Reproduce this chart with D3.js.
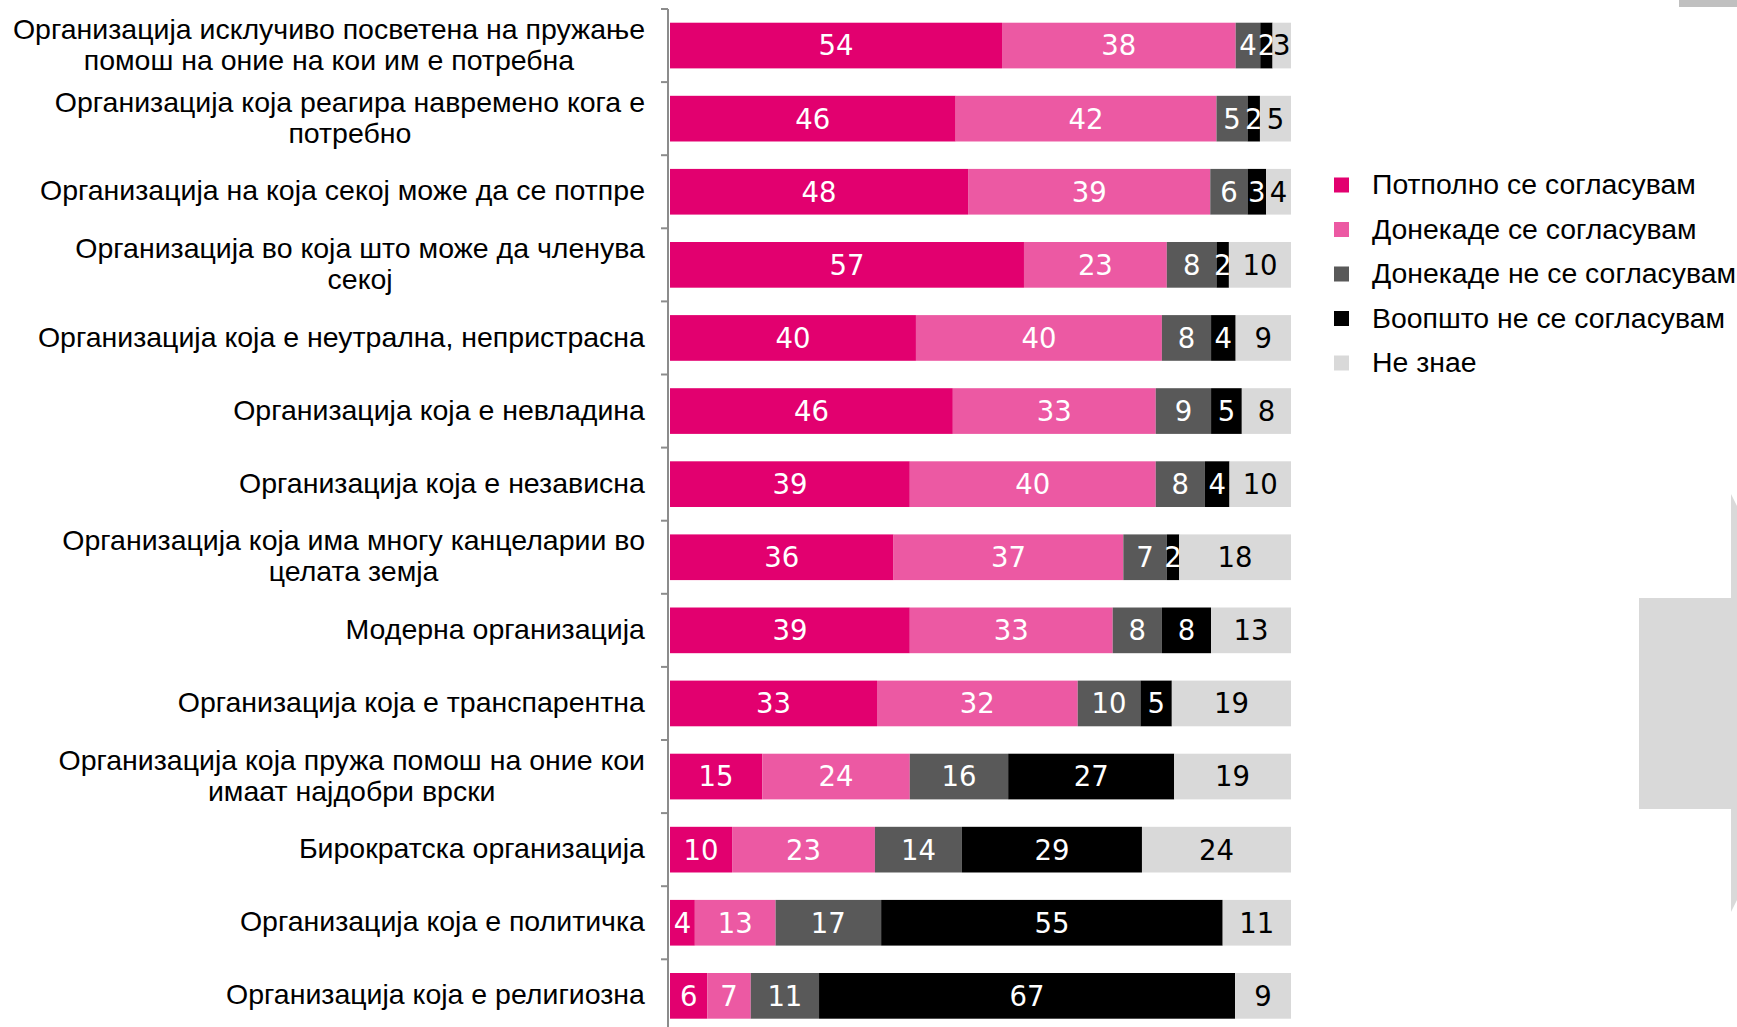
<!DOCTYPE html>
<html>
<head>
<meta charset="utf-8">
<script src="https://cdn.jsdelivr.net/npm/d3@7"></script>
<style>
    body { margin: 0; background: #fff; }
    svg { display: block; }
</style>
</head>
<body>
<svg id="org-attitudes"></svg>
<script>
// categories (y axis), "\n" marks a line break
const categories = [
    "Организација исклучиво посветена на пружање\nпомош на оние на кои им е потребна",
    "Организација која реагира навремено кога е\nпотребно",
    "Организација на која секој може да се потпре",
    "Организација во која што може да членува\nсекој",
    "Организација која е неутрална, непристрасна",
    "Организација која е невладина",
    "Организација која е независна",
    "Организација која има многу канцеларии во\nцелата земја",
    "Модерна организација",
    "Организација која е транспарентна",
    "Организација која пружа помош на оние кои\nимаат најдобри врски",
    "Бирократска организација",
    "Организација која е политичка",
    "Организација која е религиозна"
];

// series names (legend)
const seriesNames = [
    "Потполно се согласувам",
    "Донекаде се согласувам",
    "Донекаде не се согласувам",
    "Воопшто не се согласувам",
    "Не знае"
];

// values in %, one array per series
const fullyAgree    = [54, 46, 48, 57, 40, 46, 39, 36, 39, 33, 15, 10,  4,  6];
const somewhatAgree = [38, 42, 39, 23, 40, 33, 40, 37, 33, 32, 24, 23, 13,  7];
const somewhatNot   = [ 4,  5,  6,  8,  8,  9,  8,  7,  8, 10, 16, 14, 17, 11];
const notAtAll      = [ 2,  2,  3,  2,  4,  5,  4,  2,  8,  5, 27, 29, 55, 67];
const dontKnow      = [ 3,  5,  4, 10,  9,  8, 10, 18, 13, 19, 19, 24, 11,  9];

const colors = ["#e2006f", "#ec59a3", "#595959", "#000000", "#d9d9d9"];
const labelColors = ["#fff", "#fff", "#fff", "#fff", "#000"];

const width = 1737;
const height = 1027;

const svg = d3.select("#org-attitudes").attr("width", width).attr("height", height);

// build rows for stacking
const allSeries = [fullyAgree, somewhatAgree, somewhatNot, notAtAll, dontKnow];
const rows = categories.map((c, i) => {
    const row = { category: c };
    seriesNames.forEach((s, j) => { row[s] = allSeries[j][i]; });
    return row;
});

// 100% stacked
const stacked = d3.stack()
    .keys(seriesNames)
    .offset(d3.stackOffsetExpand)(rows);

const x = d3.scaleLinear().domain([0, 1]).range([670, 1291]);
const y = d3.scaleBand()
    .domain(categories)
    .range([9, 9 + 73.1 * categories.length])
    .paddingInner(0.375)
    .paddingOuter(0.1875);

// decorative slide shapes on the right
svg.append("rect").attr("x", 1679).attr("y", 0).attr("width", 58).attr("height", 7).attr("fill", "#c0c0c0");
svg.append("path")
    .attr("d", "M1731,494 L1737,506 L1737,900 L1731,912 Z")
    .attr("fill", "#d9d9d9");
svg.append("rect").attr("x", 1639).attr("y", 598).attr("width", 98).attr("height", 211).attr("fill", "#d9d9d9");

// bars
const layer = svg.append("g")
    .selectAll("g")
    .data(stacked)
    .join("g")
    .attr("fill", (d, i) => colors[i]);

layer.selectAll("rect")
    .data(d => d)
    .join("rect")
    .attr("x", d => x(d[0]))
    .attr("y", d => y(d.data.category))
    .attr("width", d => x(d[1]) - x(d[0]))
    .attr("height", y.bandwidth());

// value labels
const labels = svg.append("g")
    .attr("font-family", "'DejaVu Sans', Verdana, sans-serif")
    .attr("font-size", "27.5px")
    .attr("text-anchor", "middle");

stacked.forEach((s, i) => {
    labels.append("g")
        .attr("fill", labelColors[i])
        .selectAll("text")
        .data(s)
        .join("text")
        .attr("x", d => (x(d[0]) + x(d[1])) / 2)
        .attr("y", d => y(d.data.category) + y.bandwidth() / 2)
        .attr("dy", "0.36em")
        .text(d => d.data[s.key]);
});

// y axis
const axis = svg.append("g")
    .attr("transform", "translate(668,0)")
    .call(d3.axisLeft(y).tickSize(0).tickFormat(""));
axis.select(".domain").attr("stroke", "#8c8c8c").attr("stroke-width", 2)
    .attr("d", `M0,${y.range()[0]}V${height}`);

// tick marks between categories
const bounds = d3.range(categories.length + 1).map(i => y.range()[0] + i * y.step());
axis.selectAll(".sep")
    .data(bounds)
    .join("line")
    .attr("x1", -7).attr("x2", 0)
    .attr("y1", d => d).attr("y2", d => d)
    .attr("stroke", "#8c8c8c").attr("stroke-width", 2);

// category labels, lines centred to each other, block right-aligned
const catLabels = svg.append("g")
    .attr("font-family", "'Liberation Sans', Arial, sans-serif")
    .attr("font-size", "28.5px")
    .attr("fill", "#000");

categories.forEach(c => {
    const lines = c.split("\n");
    const cy = y(c) + y.bandwidth() / 2;
    const t = catLabels.append("text").attr("text-anchor", "middle");
    lines.forEach((l, k) => {
        t.append("tspan")
            .attr("x", 0)
            .attr("y", cy + (k - (lines.length - 1) / 2) * 31)
            .attr("dy", "0.3em")
            .text(l);
    });
    // place so the widest line ends at x = 645
    const w = t.node().getBBox().width;
    t.selectAll("tspan").attr("x", 645 - w / 2);
});

// legend
const legend = svg.append("g")
    .attr("font-family", "'Liberation Sans', Arial, sans-serif")
    .attr("font-size", "28.4px");

const item = legend.selectAll("g")
    .data(seriesNames)
    .join("g")
    .attr("transform", (d, i) => `translate(1334,${185 + i * 44.5})`);

item.append("rect")
    .attr("x", 0).attr("y", -7.5)
    .attr("width", 15).attr("height", 15)
    .attr("fill", (d, i) => colors[i]);

item.append("text")
    .attr("x", 38)
    .attr("dy", "0.33em")
    .text(d => d);
</script>
</body>
</html>
